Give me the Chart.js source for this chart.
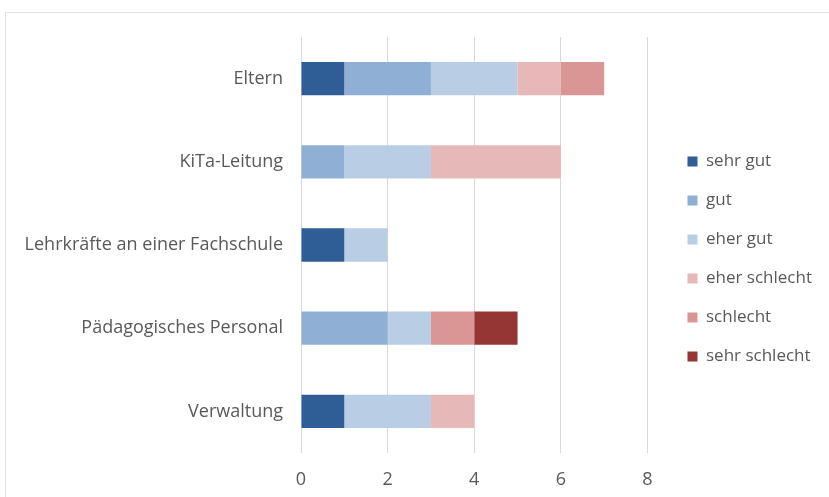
<!DOCTYPE html>
<html>
<head>
<meta charset="utf-8">
<script src="https://cdn.jsdelivr.net/npm/chart.js@4.4.1/dist/chart.umd.min.js"></script>
<style>
  html, body { margin: 0; padding: 0; background: #fff; }
  .frame { position: absolute; left: 5px; top: 12px; width: 840px; height: 500px; border: 1px solid #e3e3e3; }
  .wrap { position: absolute; left: 0; top: 0; width: 829px; height: 497px; }
</style>
</head>
<body>
<div class="frame"></div>
<div class="wrap"><canvas id="ratingChart"></canvas></div>
<script>
  // Gruppen und Bewertungen
  const groups = ['Eltern', 'KiTa-Leitung', 'Lehrkräfte an einer Fachschule', 'Pädagogisches Personal', 'Verwaltung'];
  const ratings = ['sehr gut', 'gut', 'eher gut', 'eher schlecht', 'schlecht', 'sehr schlecht'];
  const ratingColors = ['#2F5D95', '#90AFD5', '#B9CDE4', '#E6B8B7', '#D99695', '#963634'];

  // Anzahl Nennungen je Gruppe, eine Liste pro Bewertung
  const sehrGut      = [1, 0, 1, 0, 1];
  const gut          = [2, 1, 0, 2, 0];
  const eherGut      = [2, 2, 1, 1, 2];
  const eherSchlecht = [1, 3, 0, 0, 1];
  const schlecht     = [1, 0, 0, 1, 0];
  const sehrSchlecht = [0, 0, 0, 1, 0];

  const xTicks = [0, 2, 4, 6, 8];

  const series = [sehrGut, gut, eherGut, eherSchlecht, schlecht, sehrSchlecht];
  const textColor = '#595959';
  const fontFamily = "'Open Sans', 'Liberation Sans', sans-serif";

  // extra room between plot and legend, plus a small upward nudge of the legend
  const legendGap = 18;
  const legendLift = 8;
  const legendPlacement = {
    id: 'legendPlacement',
    beforeLayout(chart) {
      const legend = chart.legend;
      if (legend && !legend._gapPatched) {
        const fit = legend.fit;
        legend.fit = function () { fit.call(this); this.width += legendGap; };
        legend._gapPatched = true;
      }
    },
    afterLayout(chart) {
      const legend = chart.legend;
      legend.left += legendGap;
      legend.top -= legendLift;
      legend.bottom -= legendLift;
    }
  };

  const ctx = document.getElementById('ratingChart').getContext('2d');
  new Chart(ctx, {
    type: 'bar',
    data: {
      labels: groups,
      datasets: series.map((values, i) => ({
        label: ratings[i],
        data: values,
        backgroundColor: ratingColors[i],
        borderWidth: 0,
        categoryPercentage: 1,
        barPercentage: 0.4
      }))
    },
    options: {
      indexAxis: 'y',
      responsive: true,
      maintainAspectRatio: false,
      animation: false,
      layout: { padding: { top: 37, left: 0, right: 7, bottom: 0 } },
      plugins: {
        tooltip: { enabled: false },
        legend: {
          position: 'right',
          align: 'center',
          labels: {
            boxWidth: 10,
            boxHeight: 10,
            padding: 22,
            color: textColor,
            font: { family: fontFamily, size: 17 }
          }
        }
      },
      scales: {
        x: {
          stacked: true,
          min: 0,
          max: 8,
          afterBuildTicks: axis => { axis.ticks = xTicks.map(v => ({ value: v })); },
          afterFit: axis => { axis.height = 44; },
          border: { display: false },
          grid: { color: '#d9d9d9', drawTicks: false },
          ticks: { color: textColor, padding: 16, font: { family: fontFamily, size: 18 } }
        },
        y: {
          stacked: true,
          afterFit: axis => { axis.width = 301; },
          border: { display: false },
          grid: { display: false, drawTicks: false },
          ticks: { color: textColor, padding: 18, font: { family: fontFamily, size: 18 } }
        }
      }
    },
    plugins: [legendPlacement]
  });
</script>
</body>
</html>
